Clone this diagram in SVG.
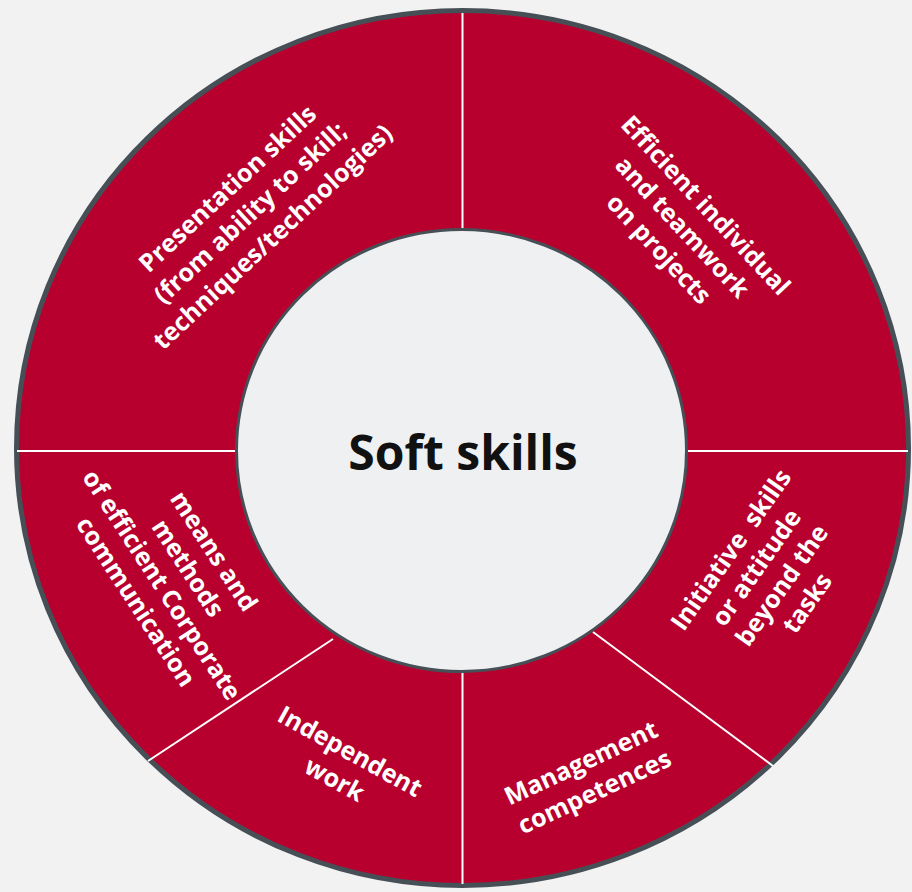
<svg xmlns="http://www.w3.org/2000/svg" width="912" height="892" viewBox="0 0 912 892">
<style>
.lbl{font-family:"Open Sans","Liberation Sans",sans-serif;font-weight:700;font-size:25px;fill:#ffffff;text-anchor:middle}
.div{stroke:#ffffff;stroke-width:2;fill:none}
</style>
<rect x="0" y="0" width="912" height="892" fill="#f2f2f2"/>
<g id="ring">
<ellipse cx="462.5" cy="448" rx="446" ry="437.5" fill="#b8002e" stroke="#474f56" stroke-width="5"/>
</g>
<g id="dividers">
<line class="div" x1="462.5" y1="13" x2="462.5" y2="229"/>
<line class="div" x1="17" y1="451" x2="236" y2="451"/>
<line class="div" x1="687" y1="451" x2="908" y2="451"/>
<line class="div" x1="462.5" y1="672" x2="462.5" y2="884"/>
<line class="div" x1="333" y1="639" x2="148" y2="761"/>
<line class="div" x1="593" y1="632" x2="773" y2="766"/>
</g>
<g id="center">
<ellipse cx="461.5" cy="450.5" rx="225" ry="221" fill="#eff0f2" stroke="#474f56" stroke-width="3"/>
<text x="463" y="470" style="font-family:'Open Sans','Liberation Sans',sans-serif;font-weight:700;font-size:48px;fill:#111111;text-anchor:middle">Soft skills</text>
</g>
<g id="presentation" transform="translate(256 219) rotate(-43)">
<text class="lbl"><tspan x="0" y="-33">Presentation skills</tspan><tspan x="0" y="0">(from ability to skill;</tspan><tspan x="0" y="33">techniques/technologies)</tspan></text>
</g>
<g id="efficient" transform="translate(676 233) rotate(47)">
<text class="lbl"><tspan x="0" y="-32">Efficient individual</tspan><tspan x="0" y="0">and teamwork</tspan><tspan x="0" y="32">on projects</tspan></text>
</g>
<g id="initiative" transform="translate(770 577) rotate(-55)">
<text class="lbl"><tspan x="0" y="-39" xml:space="preserve">Initiative  skills</tspan><tspan x="0" y="-8">or attitude</tspan><tspan x="0" y="23">beyond the</tspan><tspan x="0" y="54">tasks</tspan></text>
</g>
<g id="management" transform="translate(588 778) rotate(-25)">
<text class="lbl"><tspan x="0" y="-8">Management</tspan><tspan x="0" y="24">competences</tspan></text>
</g>
<g id="independent" transform="translate(342 766) rotate(29)">
<text class="lbl"><tspan x="0" y="-8">Independent</tspan><tspan x="0" y="24">work</tspan></text>
</g>
<g id="communication" transform="translate(174 577) rotate(57)">
<text class="lbl"><tspan x="0" y="-39">means and</tspan><tspan x="0" y="-8">methods</tspan><tspan x="0" y="23">of efficient Corporate</tspan><tspan x="0" y="54">communication</tspan></text>
</g>
</svg>
